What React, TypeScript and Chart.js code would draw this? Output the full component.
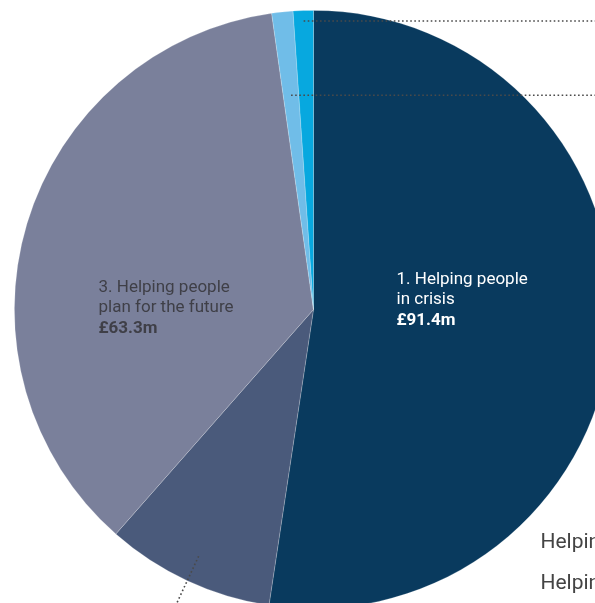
import React, { useEffect, useRef } from "react";
import { Chart, registerables } from "chart.js";

Chart.register(...registerables);

const categories = [
  "1. Helping people in crisis",
  "2. Helping people",
  "3. Helping people plan for the future",
  "4. Helping people",
  "5. Helping people",
];
const values = [91.4, 15.9, 63.3, 2.0, 1.9];
const amountLabels = ["£91.4m", "£15.9m", "£63.3m", "£2.0m", "£1.9m"];
const sliceColors = ["#093a5e", "#4a5a7b", "#7a809b", "#70bde8", "#07a8df"];
const sideLabels = ["Helping people", "Helping people"];

const FONT = "Roboto, 'Noto Sans', sans-serif";

const annotate = {
  id: "annotate",
  afterDraw(chart: any) {
    const ctx = chart.ctx;
    const meta = chart.getDatasetMeta(0);
    const arcs = meta.data;
    if (!arcs.length) return;
    const cx = arcs[0].x;
    const cy = arcs[0].y;
    const R = arcs[0].outerRadius;
    const mid = (a: any) => (a.startAngle + a.endAngle) / 2;
    const pt = (a: any, f: number) => ({
      x: cx + Math.cos(mid(a)) * R * f,
      y: cy + Math.sin(mid(a)) * R * f,
    });
    ctx.save();
    // dotted leader lines
    ctx.strokeStyle = "#4a4a4a";
    ctx.lineWidth = 1.6;
    ctx.setLineDash([1.6, 2.5]);
    const p4 = pt(arcs[4], 0.965);
    ctx.beginPath();
    ctx.moveTo(p4.x, p4.y);
    ctx.lineTo(chart.width + 10, p4.y);
    ctx.stroke();
    const p3 = pt(arcs[3], 0.72);
    ctx.beginPath();
    ctx.moveTo(p3.x, p3.y);
    ctx.lineTo(chart.width + 10, p3.y);
    ctx.stroke();
    const a1 = pt(arcs[1], 0.91);
    const b1 = pt(arcs[1], 1.12);
    ctx.beginPath();
    ctx.moveTo(a1.x, a1.y);
    ctx.lineTo(b1.x, b1.y);
    ctx.stroke();
    ctx.setLineDash([]);

    // slice labels
    ctx.textAlign = "left";
    ctx.textBaseline = "alphabetic";
    const drawBlock = (lines: string[], amt: string, x: number, y: number, color: string) => {
      ctx.fillStyle = color;
      ctx.font = `400 17px ${FONT}`;
      lines.forEach((l, i) => ctx.fillText(l, x, y + i * 20.8));
      ctx.font = `700 17px ${FONT}`;
      ctx.fillText(amt, x, y + lines.length * 20.8);
    };
    drawBlock(["1. Helping people", "in crisis"], amountLabels[0], cx + 83, cy - 26, "#ffffff");
    drawBlock(["3. Helping people", "plan for the future"], amountLabels[2], cx - 215, cy - 18, "#3f3f47");

    // side labels (cut off at page edge)
    ctx.fillStyle = "#444444";
    ctx.font = `400 21px ${FONT}`;
    ctx.fillText(sideLabels[0], cx + 227, cy + 238);
    ctx.fillText(sideLabels[1], cx + 227, cy + 279);
    ctx.restore();
  },
};

export default function App() {
  const ref = useRef<HTMLCanvasElement>(null);
  useEffect(() => {
    if (!ref.current) return;
    const chart = new Chart(ref.current, {
      type: "pie",
      data: {
        labels: categories,
        datasets: [
          {
            data: values,
            backgroundColor: sliceColors,
            borderColor: "rgba(255,255,255,0.25)",
            borderWidth: 0.8,
          },
        ],
      },
      options: {
        responsive: false,
        animation: false,
        layout: { padding: 0 },
        plugins: {
          legend: { display: false },
          tooltip: { enabled: false },
        },
      },
      plugins: [annotate],
    });
    return () => chart.destroy();
  }, []);
  return (
    <div
      style={{
        position: "fixed",
        left: 0,
        top: 0,
        width: 595,
        height: 603,
        overflow: "hidden",
        background: "#ffffff",
      }}
    >
      <canvas
        ref={ref}
        width={599}
        height={599}
        style={{ position: "absolute", left: 14, top: 10, width: 599, height: 599 }}
      />
    </div>
  );
}
